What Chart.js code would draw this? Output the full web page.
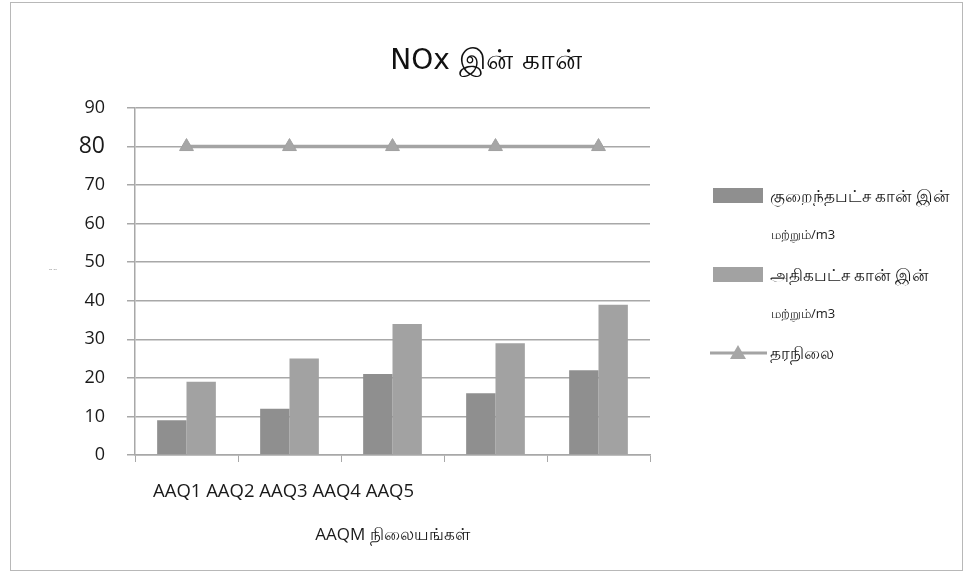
<!DOCTYPE html>
<html><head><meta charset="utf-8">
<script src="https://cdn.jsdelivr.net/npm/chart.js@4"></script>
<style>
html,body{margin:0;padding:0;background:#fff;}
#frame{position:absolute;left:10px;top:2px;width:951px;height:567px;border:1px solid #b8b8b8;box-sizing:content-box;}
#wrap{position:absolute;left:0;top:0;width:972px;height:577px;}
</style></head><body>
<div id="frame"></div>
<div id="wrap"><canvas id="c" width="972" height="577"></canvas></div>
<script>
const categories = ['AAQ1', 'AAQ2', 'AAQ3', 'AAQ4', 'AAQ5'];
const minValues = [9, 12, 21, 16, 22];
const maxValues = [19, 25, 34, 29, 39];
const standardValues = [80, 80, 80, 80, 80];
const seriesNames = ['குறைந்தபட்ச கான் இன்', 'அதிகபட்ச கான் இன்', 'தரநிலை'];
const seriesUnits = ['மற்றும்/m3', 'மற்றும்/m3', ''];
const yTicks = [0, 10, 20, 30, 40, 50, 60, 70, 80, 90];
const chartTitle = 'NOx இன் கான்';
const xAxisTitle = 'AAQM நிலையங்கள்';
const yAxisTitle = '-- --';

const FONT = "'Open Sans', 'Noto Sans', sans-serif";
const GRID = '#a8a8a8';

const extras = {
  id: 'extras',
  afterDraw(chart) {
    const ctx = chart.ctx;
    ctx.save();
    // category names line under the axis
    ctx.fillStyle = '#1a1a1a';
    ctx.font = '18.5px ' + FONT;
    ctx.textAlign = 'left';
    ctx.textBaseline = 'middle';
    ctx.fillText(categories.join(' '), chart.chartArea.left + 18, 492);
    // tiny y-axis title mark
    ctx.font = '5px ' + FONT;
    ctx.fillStyle = '#777';
    ctx.fillText(yAxisTitle, 49, 270);
    // legend
    const ds = chart.data.datasets;
    const rows = [
      {y: 196, y2: 235},
      {y: 275, y2: 314},
      {y: 353, y2: null}
    ];
    ds.forEach((d, i) => {
      const r = rows[i];
      if (d.type === 'line') {
        ctx.strokeStyle = d.borderColor;
        ctx.lineWidth = 3;
        ctx.beginPath();
        ctx.moveTo(710, r.y); ctx.lineTo(767, r.y); ctx.stroke();
        ctx.fillStyle = d.pointBackgroundColor;
        ctx.beginPath();
        ctx.moveTo(738, r.y - 8); ctx.lineTo(746, r.y + 6); ctx.lineTo(730, r.y + 6); ctx.closePath();
        ctx.fill();
      } else {
        ctx.fillStyle = d.backgroundColor;
        ctx.fillRect(713, r.y - 8, 50, 15);
      }
      ctx.fillStyle = '#1a1a1a';
      ctx.textAlign = 'left';
      ctx.textBaseline = 'middle';
      ctx.font = '16.5px ' + FONT;
      ctx.fillText(seriesNames[i], 770, r.y + 1);
      if (r.y2 && seriesUnits[i]) {
        ctx.font = '13px ' + FONT;
        ctx.fillText(seriesUnits[i], 771, r.y2);
      }
    });
    ctx.restore();
  }
};

new Chart(document.getElementById('c'), {
  data: {
    labels: categories,
    datasets: [
      {type: 'bar', label: seriesNames[0], data: minValues, backgroundColor: '#8f8f8f',
       categoryPercentage: 0.57, barPercentage: 1.0, order: 2},
      {type: 'bar', label: seriesNames[1], data: maxValues, backgroundColor: '#a2a2a2',
       categoryPercentage: 0.57, barPercentage: 1.0, order: 2},
      {type: 'line', label: seriesNames[2], data: standardValues, borderColor: '#a4a4a4',
       borderWidth: 3.5, pointStyle: 'triangle', pointRadius: 8, pointHoverRadius: 8,
       pointBackgroundColor: '#a6a6a6', pointBorderColor: '#a0a0a0', pointBorderWidth: 1, order: 1}
    ]
  },
  options: {
    responsive: false,
    animation: false,
    layout: {padding: 0},
    plugins: {
      legend: {display: false},
      tooltip: {enabled: false},
      title: {display: true, text: chartTitle, color: '#111',
        font: {family: "'DejaVu Sans', sans-serif", size: 28, weight: 'normal', lineHeight: 1.2},
        padding: {top: 45, bottom: 29.4}}
    },
    scales: {
      x: {
        type: 'category', offset: true,
        grid: {drawOnChartArea: false, drawTicks: true, tickLength: 7, color: GRID, offset: true},
        border: {display: true, color: GRID, width: 1.5},
        ticks: {display: false},
        title: {display: true, text: xAxisTitle, color: '#1a1a1a',
          font: {family: FONT, size: 17}, padding: {top: 0, bottom: 32}},
        afterFit: s => { s.height = 122; }
      },
      y: {
        min: 0, max: 90,
        afterBuildTicks: s => { s.ticks = yTicks.map(v => ({value: v})); },
        grid: {color: GRID, lineWidth: 1.5, tickLength: 8},
        border: {display: true, color: GRID, width: 1.5},
        ticks: {color: '#1a1a1a', padding: 22,
          font: c => ({family: FONT, size: (c.tick && c.tick.value === 80) ? 23 : 18})},
        afterFit: s => { s.width = 135; }
      },
      yR: {
        position: 'right', display: true,
        grid: {display: false, drawTicks: false}, border: {display: false},
        ticks: {display: false},
        afterFit: s => { s.width = 322; }
      }
    }
  },
  plugins: [extras]
});
</script>
</body></html>
